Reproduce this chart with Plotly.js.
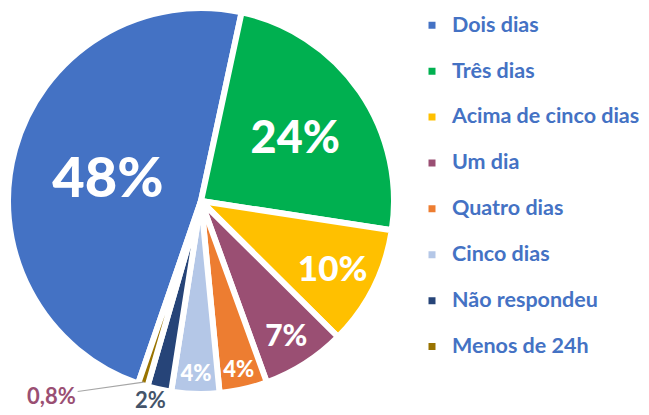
<!DOCTYPE html>
<html>
<head>
<meta charset="utf-8">
<script src="https://cdn.plot.ly/plotly-3.0.1.min.js"></script>
<style>html,body{margin:0;padding:0;background:#fff;}#chart{width:649px;height:415px;}</style>
</head>
<body>
<div id="chart"></div>
<script>
const categories = ["Dois dias", "Três dias", "Acima de cinco dias", "Um dia", "Quatro dias", "Cinco dias", "Não respondeu", "Menos de 24h"];
const percentValues = [48, 24, 10, 7, 4, 4, 2, 0.8];
const sliceColors = ["#4472C4", "#00B050", "#FFC000", "#9A4F73", "#ED7D31", "#B4C7E7", "#264478", "#997300"];

const labelTexts = percentValues.map(v => String(v).replace('.', ',') + '%');
const textSizes = [56, 45, 35, 30, 22, 22, 22, 22];
const textPositions = ["inside", "inside", "inside", "inside", "inside", "inside", "none", "none"];

const W = 649, H = 415;
const CX = 201, CY = 201, R = 193;
const ROT = -161;

const trace = {
  type: 'pie',
  labels: categories.map(c => '<span style="font-size:21.5px">' + c + '</span><br> '),
  values: percentValues,
  text: labelTexts,
  textinfo: 'text',
  hoverinfo: 'text',
  sort: false,
  direction: 'clockwise',
  rotation: ROT,
  marker: {colors: sliceColors, line: {color: '#ffffff', width: 6}},
  textposition: textPositions,
  insidetextorientation: 'horizontal',
  textfont: {family: 'Lato, sans-serif', size: textSizes, color: '#ffffff', weight: 900},
  domain: {x: [(CX - R) / W, (CX + R) / W], y: [(H - CY - R) / H, (H - CY + R) / H]}
};

// angle (deg, clockwise from 12 o'clock) of the middle of slice i
const total = percentValues.reduce((a, b) => a + b, 0);
function midAngle(i) {
  let before = 0;
  for (let k = 0; k < i; k++) before += percentValues[k];
  return ROT + (before + percentValues[i] / 2) / total * 360;
}
function polar(angleDeg, r) {
  const a = angleDeg * Math.PI / 180;
  return {x: (CX + r * Math.sin(a)) / W, y: 1 - (CY - r * Math.cos(a)) / H};
}

const iNR = 6, iM24 = 7;
const pNR = polar(midAngle(iNR), 203);
const pM24 = polar(midAngle(iM24), 190);

const annotations = [
  {
    x: pNR.x, y: pNR.y, xref: 'paper', yref: 'paper', xshift: -7,
    text: '<b>' + labelTexts[iNR] + '</b>', showarrow: false, xanchor: 'center', yanchor: 'middle',
    font: {family: 'Lato, sans-serif', size: 22, color: '#44546A'}
  },
  {
    x: pM24.x, y: pM24.y, xref: 'paper', yref: 'paper',
    text: '<b>' + labelTexts[iM24] + '</b>', showarrow: true, arrowhead: 0, arrowwidth: 1.2, arrowcolor: '#A6A6A6',
    ax: -92, ay: 13, standoff: 0,
    font: {family: 'Lato, sans-serif', size: 22, color: '#9A4F73'}
  }
];

const layout = {
  width: W, height: H,
  margin: {l: 0, r: 0, t: 0, b: 0},
  paper_bgcolor: '#fff',
  showlegend: true,
  legend: {
    x: 412 / W, xanchor: 'left',
    y: 1 - 8 / H, yanchor: 'top',
    valign: 'top',
    font: {family: 'Lato, sans-serif', size: 16.5, color: '#4472C4', weight: 'bold'},
    bgcolor: 'rgba(0,0,0,0)'
  },
  annotations: annotations,
  font: {family: 'Lato, sans-serif'}
};

Plotly.newPlot('chart', [trace], layout, {displayModeBar: false, staticPlot: true});
</script>
</body>
</html>
